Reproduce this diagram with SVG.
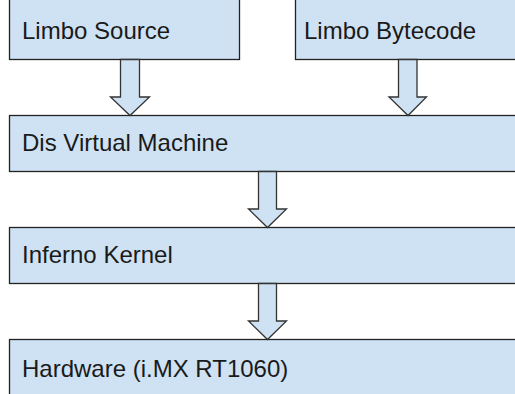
<svg xmlns="http://www.w3.org/2000/svg" width="515" height="394" viewBox="0 0 515 394">
<style>
.box{fill:#cfe2f3;stroke:#222;stroke-width:1.3}
.arr{fill:#cfe2f3;stroke:#333;stroke-width:1.3;stroke-linejoin:miter}
.lbl{font-family:"Liberation Sans",Arial,sans-serif;font-size:24px;fill:#1a1a1a}
</style>
<rect width="515" height="394" fill="#ffffff"/>
<g id="limbo-source">
<rect class="box" x="9.5" y="-10" width="230" height="69.5"/>
<text class="lbl" x="22" y="39">Limbo Source</text>
</g>
<g id="limbo-bytecode">
<rect class="box" x="295.5" y="-10" width="230" height="69.5"/>
<text class="lbl" x="304" y="39">Limbo Bytecode</text>
</g>
<g id="dis-vm">
<rect class="box" x="9.5" y="115.5" width="520" height="56"/>
<text class="lbl" x="22" y="151">Dis Virtual Machine</text>
</g>
<g id="inferno-kernel">
<rect class="box" x="9.5" y="227.5" width="520" height="56"/>
<text class="lbl" x="22" y="263">Inferno Kernel</text>
</g>
<g id="hardware">
<rect class="box" x="9.5" y="339.5" width="520" height="70"/>
<text class="lbl" x="22" y="377">Hardware (i.MX RT1060)</text>
</g>
<g id="connectors">
<polygon class="arr" points="120.5,59.5 139.5,59.5 139.5,97 149.5,97 130,115.5 110.5,97 120.5,97"/>
<polygon class="arr" points="398.5,59.5 417,59.5 417,97 426.5,97 408,115.5 389,97 398.5,97"/>
<polygon class="arr" points="258.5,171.5 276.5,171.5 276.5,209 286.5,209 267.5,227.5 248.5,209 258.5,209"/>
<polygon class="arr" points="258.5,283.5 276.5,283.5 276.5,321 286.5,321 267.5,339.5 248.5,321 258.5,321"/>
</g>
</svg>
